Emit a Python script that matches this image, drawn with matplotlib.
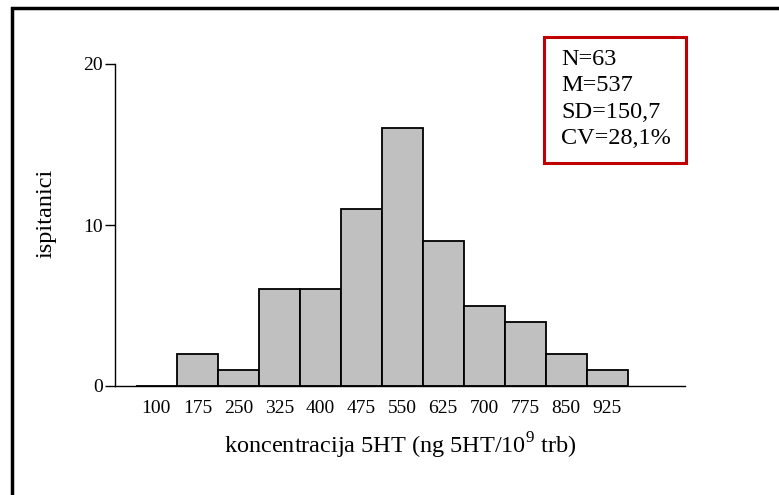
import matplotlib.pyplot as plt
from matplotlib.patches import Rectangle

# podaci histograma
kategorije = ['100', '175', '250', '325', '400', '475', '550', '625', '700', '775', '850', '925']
ispitanici = [0, 2, 1, 6, 6, 11, 16, 9, 5, 4, 2, 1]
statistika = ['N=63', 'M=537', 'SD=150,7', 'CV=28,1%']

plt.rcParams['font.family'] = ['Liberation Serif', 'DejaVu Serif']

fig = plt.figure(figsize=(7.79, 4.95), dpi=100)
ax = fig.add_axes([115/779, 1 - 386/495, 570/779, 322/495])

# okvir oko cijele slike
fig.patches.append(Rectangle((12/779, -0.1), 1.2, 1 - 8/495 + 0.1, transform=fig.transFigure,
                             fill=False, edgecolor='black', linewidth=2.5))

pos = list(range(len(kategorije)))
ax.bar(pos, ispitanici, width=1.0, color='#c0c0c0', edgecolor='black', linewidth=1.3)

ax.set_xlim(-1.01, 12.9)
ax.set_ylim(0, 20)
ax.set_xticks(pos)
ax.set_xticklabels(kategorije, fontsize=14)
ax.tick_params(axis='x', length=0, pad=10)
ax.set_yticks([0, 10, 20])
ax.tick_params(axis='y', labelsize=14, length=7, width=1, pad=2)

for s in ['top', 'right']:
    ax.spines[s].set_visible(False)
for s in ['left', 'bottom']:
    ax.spines[s].set_linewidth(1.0)

ax.set_xlabel(r'koncentracija 5HT (ng 5HT/10$^{\mathregular{9}}$ trb)', fontsize=17.5)
ax.xaxis.set_label_coords((400 - 115) / 570, -(446 - 386) / 322)
ax.xaxis.label.set_va('center')
ax.set_ylabel('ispitanici', fontsize=17.5)
ax.yaxis.set_label_coords(-(115 - 46) / 570, (386 - 213) / 322)
ax.yaxis.label.set_va('center')

# okvir sa statistikom
fig.patches.append(Rectangle((544/779, 1 - 163/495), 142/779, 126/495, transform=fig.transFigure,
                             fill=False, edgecolor='#c00000', linewidth=2.2))
fig.text(561/779, 1 - 49/495, '\n'.join(statistika), fontsize=17.5, va='top', ha='left',
         linespacing=1.33)

fig.savefig('out.png', dpi=100)
